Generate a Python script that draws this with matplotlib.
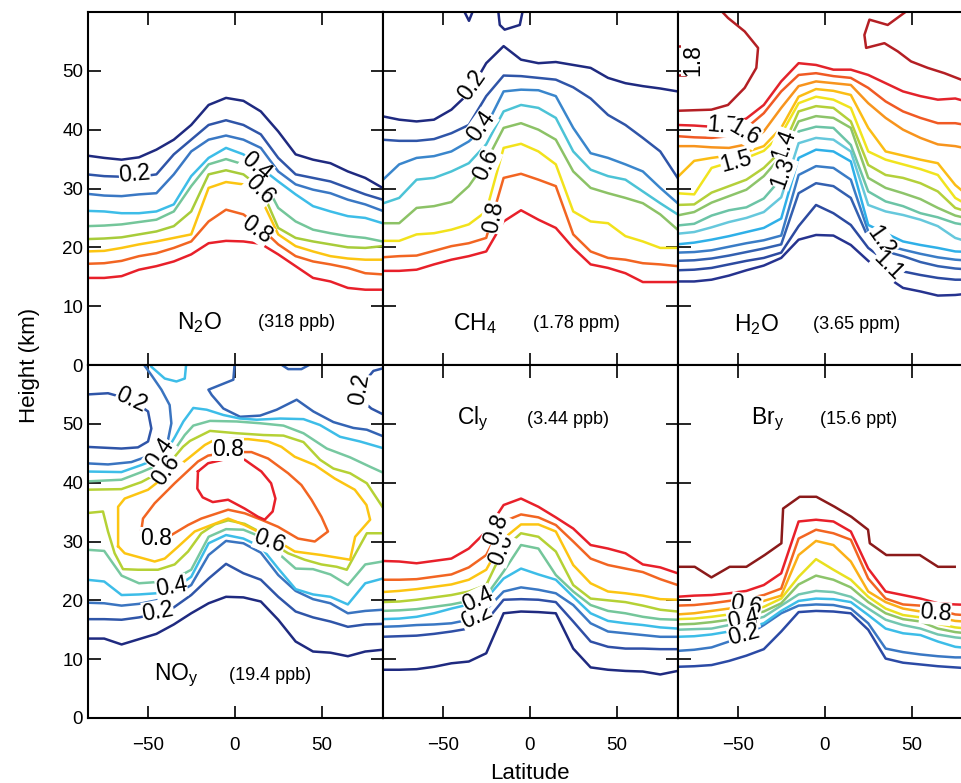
import matplotlib
matplotlib.use("Agg")
import matplotlib.pyplot as plt

plt.rcParams["font.family"] = ["Liberation Sans", "DejaVu Sans"]
plt.rcParams["mathtext.fontset"] = "custom"
plt.rcParams["mathtext.rm"] = "Liberation Sans"
plt.rcParams["mathtext.default"] = "regular"

# latitude grid shared by the contour lines (deg)
LAT = [-85, -75, -65, -55, -45, -35, -25, -15, -5, 5, 15, 25, 35, 45, 55, 65, 75, 85]

# ---- N2O: heights (km) of each contour, top line first
N2O_HEIGHTS = [
    [35.6, 35.2, 34.9, 35.3, 36.6, 38.3, 40.8, 44.2, 45.4, 44.9, 43.1, 39.7, 35.8, 34.9, 34.3, 32.9, 31.8, 30.1],
    [32.4, 32.1, 32.0, 32.0, 32.4, 35.8, 38.3, 40.8, 41.6, 40.8, 39.2, 35.2, 32.4, 31.8, 31.2, 30.1, 29.0, 28.1],
    [29.1, 28.8, 28.7, 29.0, 29.2, 32.4, 36.3, 38.3, 39.0, 38.3, 36.9, 32.9, 30.7, 29.8, 29.2, 28.1, 27.3, 26.2],
    [26.2, 26.1, 25.8, 25.8, 26.1, 27.3, 32.1, 35.2, 36.9, 35.8, 33.5, 31.2, 29.0, 27.0, 26.1, 25.3, 25.0, 24.1],
    [23.6, 23.7, 23.9, 24.3, 24.7, 26.1, 30.4, 34.1, 35.0, 34.1, 32.4, 26.7, 24.4, 23.0, 22.4, 21.9, 21.6, 21.0],
    [21.4, 21.5, 21.7, 22.2, 22.7, 23.6, 26.1, 32.4, 33.1, 32.4, 30.1, 23.3, 21.6, 21.0, 20.5, 20.0, 19.9, 20.2],
    [19.3, 19.4, 19.9, 20.5, 21.0, 21.6, 22.2, 30.1, 31.1, 30.7, 28.4, 22.2, 20.2, 19.3, 18.5, 18.1, 17.9, 17.9],
    [17.2, 17.3, 17.7, 18.5, 19.0, 19.9, 21.0, 24.4, 26.4, 25.6, 23.3, 20.5, 18.5, 17.6, 17.1, 16.5, 15.6, 15.4],
    [14.8, 14.8, 15.1, 16.2, 16.8, 17.6, 18.8, 20.7, 21.1, 21.0, 20.6, 18.8, 16.8, 14.8, 14.2, 13.1, 12.8, 12.8],
]
N2O_COLORS = ["#1f2a80", "#2f55a8", "#3a78c4", "#3dbde8", "#74c69a",
              "#a8cc3a", "#fcc512", "#f26522", "#e8202a"]

# ---- CH4
CH4_HEIGHTS = [
    [42.3, 41.7, 41.4, 41.7, 43.4, 46.2, 51.3, 54.2, 51.9, 51.3, 51.5, 51.0, 50.5, 48.8, 47.9, 47.4, 47.0, 46.5],
    [38.3, 38.1, 38.1, 38.4, 39.4, 40.8, 45.7, 49.2, 49.1, 48.8, 48.5, 47.2, 45.3, 42.5, 40.8, 38.6, 36.3, 31.8],
    [31.3, 34.1, 35.2, 35.5, 36.3, 38.0, 40.6, 46.5, 46.8, 46.7, 45.7, 40.3, 36.0, 35.2, 34.1, 32.9, 30.1, 27.5],
    [27.4, 28.4, 31.5, 31.8, 32.9, 34.3, 37.5, 43.1, 44.2, 43.7, 42.0, 36.3, 33.2, 32.1, 31.5, 29.5, 27.5, 25.6],
    [24.1, 24.1, 26.7, 27.0, 27.7, 30.4, 34.6, 40.3, 41.1, 40.0, 38.3, 32.9, 30.1, 29.2, 28.4, 27.5, 25.6, 23.0],
    [21.1, 21.1, 22.2, 22.4, 23.0, 23.9, 26.1, 36.9, 37.6, 36.3, 34.1, 26.1, 24.4, 24.1, 21.9, 21.0, 19.9, 19.9],
    [18.3, 18.5, 18.6, 19.4, 20.2, 20.7, 21.6, 31.8, 32.5, 31.5, 30.4, 22.2, 19.3, 18.2, 17.9, 17.3, 17.1, 16.8],
    [16.0, 16.0, 16.2, 17.1, 17.9, 18.5, 19.3, 24.4, 26.3, 24.7, 23.3, 19.9, 17.1, 16.5, 15.6, 14.1, 14.1, 14.1],
]
CH4_COLORS = ["#1f2a80", "#2f55a8", "#3a86cc", "#4cc3d6", "#8cc266",
              "#f2e21c", "#f26522", "#e8202a"]
CH4_TOP_BITS = [
    [(-38.3, 60.5), (-34.9, 58.5), (-32.2, 60.5)],
    [(-18.2, 60.5), (-17.2, 57.8), (-14.4, 57.0), (-5.7, 57.8), (-3.8, 60.5)],
]

# ---- H2O, bottom line first
H2O_HEIGHTS = [
    [14.2, 14.2, 14.5, 15.2, 16.1, 16.9, 18.2, 21.3, 22.1, 22.0, 20.4, 17.7, 15.1, 13.1, 12.5, 11.8, 11.9, 12.2],
    [16.1, 16.2, 16.5, 17.1, 17.7, 18.2, 19.1, 23.6, 27.2, 25.8, 23.8, 19.9, 17.7, 15.9, 15.3, 14.8, 14.5, 14.5],
    [17.7, 17.8, 18.1, 18.6, 19.2, 19.8, 20.5, 29.2, 30.9, 30.4, 28.4, 21.6, 19.3, 18.5, 17.5, 16.8, 16.4, 16.2],
    [19.1, 19.2, 19.5, 20.1, 20.7, 21.2, 22.0, 32.3, 33.8, 33.5, 31.5, 22.7, 20.4, 19.6, 18.9, 18.3, 17.9, 17.7],
    [20.5, 20.8, 21.3, 21.9, 22.6, 23.3, 24.9, 35.2, 36.6, 36.3, 34.6, 23.8, 22.4, 21.0, 20.4, 19.9, 19.3, 19.2],
    [22.3, 22.6, 23.4, 24.3, 25.0, 26.0, 28.5, 37.7, 38.6, 38.3, 36.3, 27.2, 26.1, 25.5, 24.7, 23.6, 21.6, 20.7],
    [23.7, 24.0, 25.4, 26.3, 26.8, 28.3, 31.7, 39.7, 40.5, 40.3, 37.4, 29.5, 27.8, 27.0, 25.8, 25.1, 24.1, 23.6],
    [25.4, 26.0, 27.6, 28.7, 29.8, 32.1, 35.5, 41.4, 42.3, 42.0, 40.3, 31.8, 30.1, 29.2, 28.2, 26.7, 25.4, 24.7],
    [27.2, 27.3, 29.3, 30.4, 31.5, 33.5, 36.4, 43.1, 44.0, 43.7, 41.4, 34.0, 32.3, 31.8, 30.9, 29.5, 26.7, 25.8],
    [29.2, 29.0, 33.5, 34.4, 35.2, 36.4, 39.2, 44.5, 45.6, 45.1, 43.7, 36.3, 34.9, 34.1, 33.3, 32.3, 28.4, 26.7],
    [31.8, 34.7, 35.2, 35.6, 36.2, 37.2, 40.3, 45.6, 46.9, 46.6, 45.9, 40.3, 36.3, 35.6, 34.9, 34.3, 30.6, 28.1],
    [37.2, 37.2, 37.0, 36.9, 37.5, 39.7, 43.7, 47.4, 48.2, 47.9, 47.6, 44.5, 42.0, 40.0, 38.6, 37.5, 37.2, 36.6],
    [38.9, 38.7, 38.6, 38.9, 40.3, 42.8, 46.5, 49.3, 49.6, 49.1, 48.8, 47.1, 44.8, 43.1, 42.0, 41.1, 41.1, 40.6],
    [40.8, 40.7, 40.5, 40.9, 41.9, 44.2, 48.2, 51.3, 51.0, 50.2, 50.2, 49.3, 47.9, 46.5, 45.7, 45.1, 45.3, 44.5],
]
H2O_COLORS = ["#26338f", "#2c4aa0", "#3360b0", "#3a7cc6", "#2fb0e8", "#66c8dc",
              "#6cc4a6", "#8dc46a", "#b4d03a", "#f1e41e", "#fbbd15", "#f7941d",
              "#f05a24", "#e3232b"]
H2O_TOP_PATHS = [
    [(-86, 43.2), (-65.1, 43.4), (-55.6, 44.2), (-46.0, 47.1), (-39.3, 50.5),
     (-38.3, 53.9), (-46.0, 56.7), (-55.6, 59.0), (-62.0, 61.0)],
    [(-80.5, 54.3), (-86, 54.3), (-86, 49.3), (-80.5, 49.3)],
    [(51.0, 61.0), (36.2, 57.8), (25.7, 58.7), (22.8, 56.1), (23.8, 53.9), (34.3, 54.7),
     (42.0, 53.3), (49.6, 51.6), (59.2, 50.5), (68.8, 49.6), (78.4, 48.5), (85.0, 47.9)],
]
H2O_TOP_COLOR = "#b41f24"

# ---- NOy, lower branches on the grid, bottom line first
NOY_HEIGHTS = [
    [13.5, 13.5, 12.5, 13.4, 14.3, 15.9, 17.8, 19.5, 20.6, 20.5, 19.8, 16.7, 13.0, 11.3, 11.1, 10.5, 11.3, 11.6],
    [16.8, 16.8, 16.7, 17.1, 17.7, 18.8, 20.9, 23.7, 26.2, 24.6, 23.5, 20.6, 18.1, 17.1, 16.4, 15.5, 15.9, 16.0],
    [19.6, 19.5, 19.1, 19.4, 20.0, 20.8, 22.6, 27.7, 30.1, 29.7, 28.1, 24.3, 21.6, 20.2, 19.5, 17.8, 18.2, 18.4],
    [23.5, 23.2, 20.9, 21.0, 21.2, 21.9, 24.0, 29.7, 31.1, 30.5, 29.1, 25.4, 21.9, 21.0, 20.6, 19.3, 22.9, 23.7],
    [28.6, 28.4, 24.2, 22.9, 23.1, 23.6, 25.2, 30.8, 32.1, 32.0, 30.8, 28.0, 25.4, 25.3, 24.4, 22.6, 26.1, 26.6],
]
NOY_COLORS = ["#1f2a80", "#2f55a8", "#3a74c0", "#3dbde8", "#77c8a0"]

# NOy contours that bend back or close: (lat, km) vertices
NOY_PATHS = [
    # 0.2 region at upper left
    [(-84.3, 55.0), (-72.8, 55.2), (-59.4, 54.1), (-49.8, 52.1), (-47.9, 49.2),
     (-49.8, 47.0), (-55.6, 46.0), (-65.1, 45.8), (-86, 46.1)],
    # 0.3 around it
    [(-86, 43.3), (-72.8, 43.1), (-59.4, 43.5), (-47.9, 44.7), (-38.3, 47.3),
     (-36.4, 50.1), (-37.4, 53.2), (-42.1, 55.8), (-47.9, 58.3), (-54.5, 61)],
    # 0.3 upper branch
    [(0.2, 61), (-0.8, 57.5), (-15.1, 55.8), (-13.2, 54.9), (-6.5, 52.6), (3.1, 51.2),
     (14.6, 51.4), (24.1, 52.4), (35.6, 54.1), (45.2, 52.1), (56.7, 50.3), (68.2, 49.3),
     (75.9, 49.0), (86, 47.8)],
    # small 0.3 bump at the top
    [(22.0, 61), (30.7, 59.3), (38.3, 59.3), (49.0, 61)],
    # 0.2 at upper right
    [(86, 59.5), (79.7, 59.0), (74.7, 57.2), (73.9, 53.8), (78.5, 52.6), (86, 51.5)],
    # 0.4 small bump at the top
    [(-49.5, 61), (-47.9, 59.7), (-40.2, 57.7), (-33.5, 57.2), (-28.7, 57.7), (-27.6, 61)],
    # 0.4 upper branch
    [(-86, 41.9), (-65.1, 41.8), (-53.6, 43.0), (-46.0, 43.9), (-38.3, 45.8), (-34.3, 47.8),
     (-29.5, 50.4), (-23.8, 52.7), (-16.1, 52.4), (-6.5, 51.5), (3.1, 50.9), (12.6, 50.7),
     (26.1, 50.9), (39.5, 50.8), (49.0, 49.8), (60.5, 47.8), (72.0, 47.0), (86, 45.8)],
    # 0.5 upper branch
    [(-86, 40.2), (-65.1, 40.5), (-53.6, 41.8), (-44.1, 43.0), (-34.5, 45.6), (-28.7, 48.1),
     (-23.8, 49.7), (-14.2, 50.5), (1.1, 50.4), (14.6, 50.1), (28.0, 49.7), (39.5, 48.4),
     (52.9, 45.8), (66.3, 44.3), (77.8, 42.7), (86, 41.6)],
    # 0.6 upper branch
    [(-86, 38.8), (-65.1, 38.9), (-53.6, 40.1), (-46.0, 41.3), (-35.4, 44.1), (-29.7, 46.1),
     (-25.7, 47.1), (-14.2, 48.8), (1.1, 48.4), (16.5, 48.1), (28.0, 48.0), (39.5, 46.9),
     (49.0, 43.9), (56.7, 42.4), (66.3, 41.6), (75.9, 39.9), (83.5, 36.5), (86, 35.4)],
    # 0.6 lower branch
    [(-86, 34.8), (-75.7, 35.1), (-72.8, 31.7), (-69.0, 28.0), (-64.2, 25.3), (-55.6, 25.2),
     (-44.1, 25.2), (-34.5, 26.1), (-26.8, 28.3), (-19.2, 31.4), (-11.5, 32.9), (-3.8, 33.6),
     (5.7, 33.0), (15.3, 31.5), (23.0, 29.4), (30.7, 28.0), (40.2, 26.9), (49.8, 26.1),
     (58.6, 25.7), (64.4, 25.2), (70.1, 28.3), (75.9, 31.4), (86, 31.4)],
    # 0.7 closed
    [(-67.0, 29.2), (-67.0, 35.9), (-63.2, 37.3), (-49.8, 38.8), (-36.4, 41.9), (-26.8, 44.1),
     (-17.2, 46.4), (-11.5, 47.3), (-1.9, 47.4), (7.7, 47.4), (19.2, 47.0), (26.8, 46.1),
     (34.5, 44.4), (46.0, 43.0), (57.5, 40.7), (69.0, 38.8), (75.7, 36.2), (77.8, 33.7),
     (69.2, 30.8), (66.3, 26.9), (49.8, 27.7), (34.5, 28.3), (24.9, 30.0), (15.3, 31.4),
     (5.7, 32.8), (-3.8, 33.9), (-13.4, 32.8), (-23.0, 31.7), (-32.6, 29.1), (-40.2, 27.1),
     (-46.0, 26.6), (-63.2, 28.0), (-67.0, 29.2)],
    # 0.8 closed
    [(-53.6, 32.0), (-52.7, 33.9), (-46.0, 36.5), (-34.5, 39.9), (-21.1, 43.6), (-15.3, 44.6),
     (-3.8, 45.2), (9.6, 45.2), (19.2, 44.1), (30.7, 41.6), (38.3, 39.6), (44.1, 37.1),
     (49.8, 34.2), (53.6, 31.7), (46.0, 30.0), (36.4, 30.5), (24.9, 32.5), (15.3, 33.7),
     (5.7, 34.8), (-3.8, 35.4), (-19.2, 33.9), (-26.8, 32.8), (-36.4, 31.1), (-43.1, 30.0),
     (-53.6, 32.0)],
    # 0.9 closed
    [(-21.1, 41.9), (-15.3, 43.3), (-3.8, 44.1), (5.7, 43.9), (15.3, 41.9), (20.9, 39.9),
     (23.4, 37.3), (21.8, 35.1), (17.2, 33.7), (13.4, 34.2), (5.7, 35.6), (-3.8, 37.1),
     (-12.6, 36.7), (-18.4, 37.5), (-21.5, 39.0), (-21.1, 41.9)],
]
NOY_PATH_COLORS = ["#2f55a8", "#3a74c0", "#3464b4", "#3464b4", "#2f55a8", "#3dbde8",
                   "#3dbde8", "#77c8a0", "#b5d135", "#b5d135", "#fcc512", "#f26522",
                   "#e8202a"]

# ---- Cly, bottom line first
CLY_HEIGHTS = [
    [8.2, 8.2, 8.3, 8.7, 9.3, 9.6, 11.0, 17.8, 18.1, 18.0, 17.8, 11.8, 8.6, 8.2, 8.0, 7.9, 7.4, 8.0],
    [13.8, 13.9, 14.0, 14.3, 14.7, 15.2, 16.5, 20.1, 20.2, 20.1, 19.7, 16.4, 13.0, 12.1, 11.8, 11.8, 11.7, 11.7],
    [15.5, 15.6, 15.8, 15.9, 16.1, 16.7, 18.4, 21.5, 22.2, 21.8, 21.2, 19.2, 16.1, 14.7, 14.4, 14.1, 13.8, 13.8],
    [16.8, 16.9, 17.2, 17.8, 18.6, 19.3, 20.3, 23.7, 25.4, 24.4, 23.5, 20.6, 17.8, 16.5, 16.1, 15.8, 15.4, 15.2],
    [18.2, 18.3, 18.5, 18.9, 19.3, 19.9, 20.8, 24.9, 29.4, 28.8, 24.3, 21.5, 19.2, 18.2, 17.8, 17.2, 16.8, 16.7],
    [19.7, 19.8, 20.1, 20.5, 20.9, 21.5, 22.6, 28.8, 31.4, 30.8, 28.3, 22.6, 20.3, 20.0, 19.7, 19.1, 18.4, 18.1],
    [21.4, 21.6, 21.9, 22.3, 22.7, 23.5, 25.2, 30.5, 32.9, 32.9, 31.7, 26.0, 22.9, 21.5, 21.2, 20.8, 20.2, 20.1],
    [23.5, 23.5, 23.6, 24.0, 24.4, 25.6, 27.7, 33.4, 34.6, 34.1, 32.8, 30.0, 27.1, 26.0, 25.4, 24.8, 23.6, 22.6],
    [26.7, 26.6, 26.3, 26.7, 27.1, 28.8, 31.7, 36.2, 37.3, 35.9, 34.1, 32.2, 29.4, 28.8, 28.0, 26.1, 25.6, 24.6],
]
CLY_COLORS = ["#1f2a80", "#2f4fa6", "#3a78c4", "#3dbde8", "#74c69a",
              "#b5d135", "#fcc512", "#f26522", "#e8202a"]

# ---- Bry, bottom line first
BRY_HEIGHTS = [
    [8.7, 8.8, 9.0, 9.7, 10.6, 11.7, 14.7, 18.0, 18.2, 18.1, 17.8, 15.0, 10.1, 9.4, 9.1, 8.8, 8.6, 8.4],
    [11.4, 11.6, 12.0, 13.0, 14.0, 15.8, 17.8, 19.1, 19.3, 19.2, 18.6, 16.1, 11.8, 11.2, 10.8, 10.5, 10.3, 10.3],
    [13.8, 13.9, 14.2, 14.7, 15.2, 16.1, 18.2, 19.9, 20.3, 20.2, 19.7, 17.5, 15.2, 14.4, 14.1, 13.0, 12.1, 11.8],
    [15.0, 15.1, 15.2, 15.8, 16.4, 17.2, 19.1, 21.0, 21.6, 21.4, 20.6, 18.6, 16.7, 15.8, 15.2, 14.2, 13.7, 13.4],
    [15.9, 16.0, 16.3, 16.7, 17.4, 18.1, 19.5, 22.7, 24.2, 23.5, 22.2, 19.7, 17.8, 16.8, 16.4, 15.2, 14.6, 14.3],
    [16.8, 16.9, 17.2, 17.6, 18.2, 18.9, 20.3, 24.0, 27.0, 25.2, 23.5, 20.6, 18.6, 17.5, 17.1, 16.0, 15.4, 15.1],
    [17.6, 17.8, 18.2, 18.6, 19.2, 19.9, 20.8, 27.7, 30.1, 29.4, 26.6, 21.5, 19.7, 18.6, 18.1, 17.1, 16.5, 16.3],
    [19.1, 19.2, 19.5, 19.9, 20.3, 20.9, 22.0, 30.5, 32.0, 31.4, 30.3, 23.7, 20.3, 19.3, 19.1, 18.4, 17.6, 17.4],
    [20.6, 20.8, 20.9, 21.2, 21.6, 22.6, 24.6, 33.4, 33.7, 33.4, 31.7, 25.4, 21.5, 20.9, 20.3, 19.5, 19.3, 19.2],
]
BRY_COLORS = ["#2b4aa5", "#3a78c4", "#3dbde8", "#74c6b0", "#8cc46a",
              "#e9e020", "#fbb018", "#f26522", "#e8202a"]
BRY_TOP_PATH = [(-86, 25.7), (-74.7, 25.7), (-65.1, 23.9), (-54.6, 25.7), (-45.0, 25.7),
                (-34.5, 27.7), (-24.9, 29.7), (-23.9, 35.6), (-14.4, 37.6), (-4.8, 37.6),
                (5.7, 35.9), (15.3, 34.2), (24.9, 32.0), (25.9, 29.7), (35.4, 27.7),
                (45.0, 27.7), (54.6, 27.7), (65.1, 25.7), (74.7, 25.7)]
BRY_TOP_COLOR = "#8b1a1a"

# contour labels: text, lat, km, rotation
N2O_LABELS = [("0.2", -57.5, 32.4, 5), ("0.4", 12.5, 33.8, -40),
              ("0.6", 14.4, 29.8, -45), ("0.8", 12.5, 23.0, -35)]
CH4_LABELS = [("0.2", -33.5, 47.6, 55), ("0.4", -27.8, 40.6, 55),
              ("0.6", -24.9, 34.1, 65), ("0.8", -21.0, 25.1, 80)]
H2O_LABELS = [("1.8", -75.7, 51.8, 90), ("1.7", -58.4, 40.6, -5), ("1.6", -46.0, 39.5, -30),
              ("1.5", -50.8, 34.5, 15), ("1.4", -23.4, 37.5, 70), ("1.3", -24.0, 32.7, 70),
              ("1.2", 32.4, 21.0, -55), ("1.1", 36.2, 16.8, -45)]
NOY_LABELS = [("0.2", -59.4, 54.1, -25), ("0.2", 71.8, 55.8, 80), ("0.4", -43.1, 45.0, 55),
              ("0.6", -39.3, 42.2, 55), ("0.8", -3.8, 45.6, 0), ("0.8", -45.0, 30.5, 0),
              ("0.6", 20.1, 30.0, -20), ("0.4", -36.4, 22.3, 10), ("0.2", -44.1, 18.1, 10)]
CLY_LABELS = [("0.2", -30.7, 17.2, 25), ("0.4", -29.7, 20.1, 25),
              ("0.6", -16.3, 28.6, 68), ("0.8", -19.2, 32.0, 68)]
BRY_LABELS = [("0.6", -45.0, 19.2, -10), ("0.4", -46.9, 16.8, 12),
              ("0.2", -46.6, 14.1, 15), ("0.8", 63.6, 17.8, -5)]

LW = 1.8


def draw_grid_lines(ax, heights, colors):
    for h, c in zip(heights, colors):
        ax.plot(LAT, h, color=c, lw=LW, zorder=2)


def draw_paths(ax, paths, colors):
    for pts, c in zip(paths, colors):
        ax.plot([p[0] for p in pts], [p[1] for p in pts], color=c, lw=LW, zorder=2)


def draw_labels(ax, labels):
    for text, lat, km, rot in labels:
        ax.text(lat, km, text, fontsize=16.5, rotation=rot, ha="center", va="center",
                rotation_mode="anchor", zorder=5, clip_on=True,
                bbox=dict(facecolor="white", edgecolor="none", pad=0.0))


def draw_title(ax, species, amount, lat1, lat2, km):
    ax.text(lat1, km, species, fontsize=16.5, ha="center", va="center", zorder=6)
    ax.text(lat2, km, amount, fontsize=13, ha="center", va="center", zorder=6)


fig = plt.figure(figsize=(9.61, 7.83), dpi=100)
W = 295 / 961
H = 353 / 783
lefts = [88 / 961, 383 / 961, 678 / 961]
bottoms = [1 - 365 / 783, 1 - 718 / 783]

axes = {}
for r, b in enumerate(bottoms):
    for c, l in enumerate(lefts):
        ax = fig.add_axes([l, b, W, H])
        ax.set_xlim(-84.3, 85.2)
        ax.set_ylim(0, 60)
        ax.set_xticks([-50, 0, 50])
        ax.set_yticks([0, 10, 20, 30, 40, 50])
        ax.tick_params(direction="in", length=9, width=1.2, top=True, right=True,
                       labelsize=13.5, labelleft=(c == 0), labelbottom=(r == 1))
        ax.tick_params(axis="x", pad=14)
        for s in ax.spines.values():
            s.set_linewidth(1.5)
        axes[(r, c)] = ax

ax = axes[(0, 0)]
draw_grid_lines(ax, N2O_HEIGHTS, N2O_COLORS)
draw_labels(ax, N2O_LABELS)
draw_title(ax, "N$_2$O", "(318 ppb)", -20.0, 35.4, 7.3)

ax = axes[(0, 1)]
draw_grid_lines(ax, CH4_HEIGHTS, CH4_COLORS)
draw_paths(ax, CH4_TOP_BITS, [CH4_COLORS[0]] * len(CH4_TOP_BITS))
draw_labels(ax, CH4_LABELS)
draw_title(ax, "CH$_4$", "(1.78 ppm)", -31.6, 26.8, 7.0)

ax = axes[(0, 2)]
draw_grid_lines(ax, H2O_HEIGHTS, H2O_COLORS)
draw_paths(ax, H2O_TOP_PATHS, [H2O_TOP_COLOR] * len(H2O_TOP_PATHS))
draw_labels(ax, H2O_LABELS)
draw_title(ax, "H$_2$O", "(3.65 ppm)", -39.3, 18.2, 6.9)

ax = axes[(1, 0)]
draw_grid_lines(ax, NOY_HEIGHTS, NOY_COLORS)
draw_paths(ax, NOY_PATHS, NOY_PATH_COLORS)
draw_labels(ax, NOY_LABELS)
draw_title(ax, "NO$_y$", "(19.4 ppb)", -33.5, 20.1, 7.2)

ax = axes[(1, 1)]
draw_grid_lines(ax, CLY_HEIGHTS, CLY_COLORS)
draw_labels(ax, CLY_LABELS)
draw_title(ax, "Cl$_y$", "(3.44 ppb)", -32.6, 22.0, 50.8)

ax = axes[(1, 2)]
draw_grid_lines(ax, BRY_HEIGHTS, BRY_COLORS)
draw_paths(ax, [BRY_TOP_PATH], [BRY_TOP_COLOR])
draw_labels(ax, BRY_LABELS)
draw_title(ax, "Br$_y$", "(15.6 ppt)", -32.6, 19.2, 50.8)

fig.text(0.031, 1 - 365 / 783, "Height (km)", rotation=90, fontsize=16,
         ha="center", va="center")
fig.text(530 / 961, 0.012, "Latitude", fontsize=16, ha="center", va="center")

fig.savefig("out.png", dpi=100)
